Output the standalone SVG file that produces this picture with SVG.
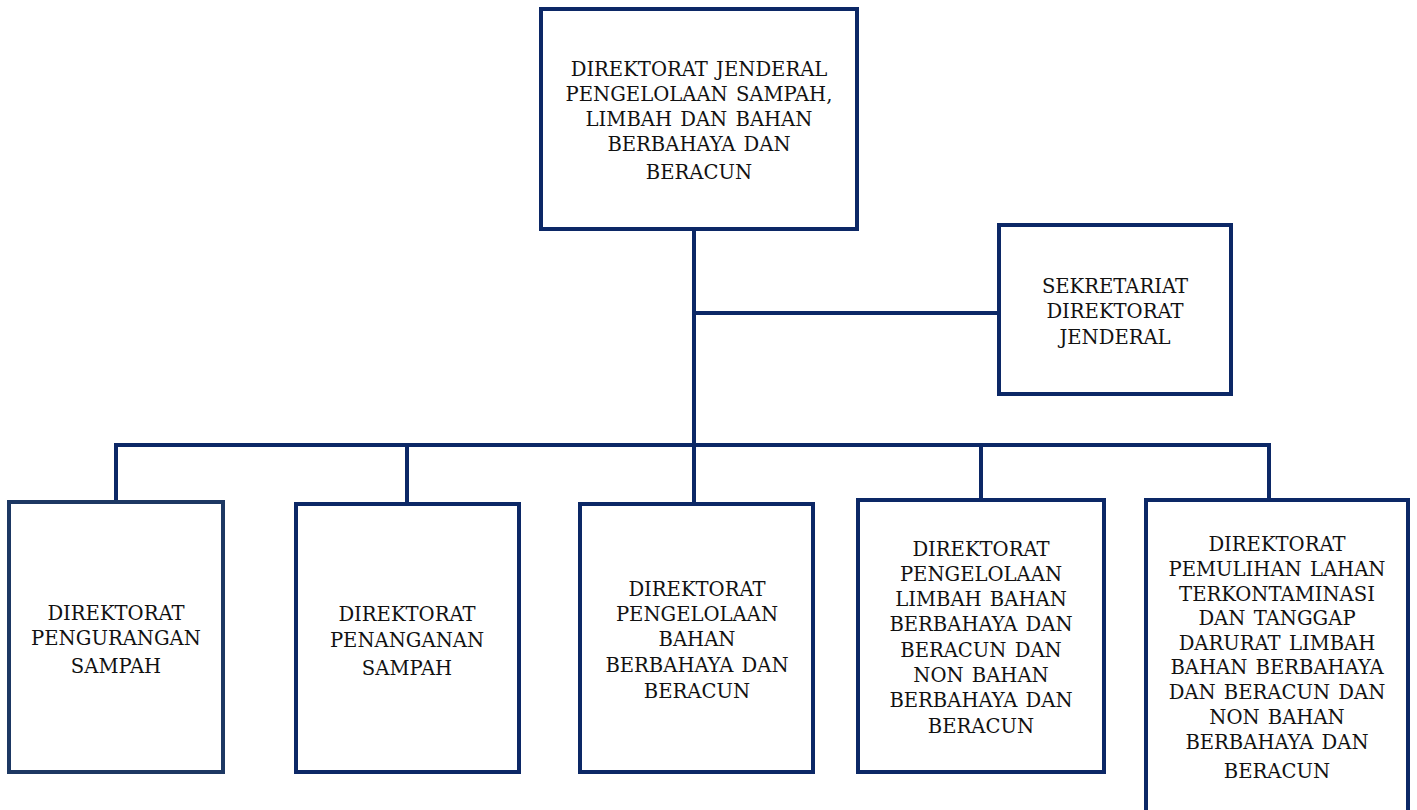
<svg xmlns="http://www.w3.org/2000/svg" width="1417" height="810" viewBox="0 0 1417 810">
<style>
.box{fill:#fff;stroke:#0c2866;stroke-width:4}
.ln{fill:none;stroke:#0c2866;stroke-width:4}
.t{font-family:"DejaVu Serif","Liberation Serif",serif;font-size:19.6px;fill:#111;text-anchor:middle;word-spacing:2px}
</style>
<rect width="1417" height="810" fill="#fff"/>
<g id="connectors">
<line class="ln" x1="694" y1="229" x2="694" y2="445"/>
<line class="ln" x1="694" y1="313" x2="999" y2="313"/>
<line class="ln" x1="114" y1="445" x2="1271" y2="445"/>
<line class="ln" x1="116" y1="445" x2="116" y2="502"/>
<line class="ln" x1="407" y1="445" x2="407" y2="504"/>
<line class="ln" x1="694" y1="445" x2="694" y2="504"/>
<line class="ln" x1="981" y1="445" x2="981" y2="500"/>
<line class="ln" x1="1269" y1="445" x2="1269" y2="500"/>
</g>
<g id="dirjen">
<rect class="box" x="541" y="9" width="316" height="220"/>
<text class="t"><tspan x="699" y="76">DIREKTORAT JENDERAL</tspan><tspan x="699" y="101">PENGELOLAAN SAMPAH,</tspan><tspan x="699" y="126">LIMBAH DAN BAHAN</tspan><tspan x="699" y="151">BERBAHAYA DAN</tspan><tspan x="699" y="179">BERACUN</tspan></text>
</g>
<g id="sekretariat">
<rect class="box" x="999" y="225" width="232" height="169"/>
<text class="t"><tspan x="1115" y="293">SEKRETARIAT</tspan><tspan x="1115" y="318">DIREKTORAT</tspan><tspan x="1115" y="344">JENDERAL</tspan></text>
</g>
<g id="pengurangan">
<rect class="box" x="9" y="502" width="214" height="270" style="stroke:#1d3863"/>
<text class="t"><tspan x="116" y="620">DIREKTORAT</tspan><tspan x="116" y="645">PENGURANGAN</tspan><tspan x="116" y="673">SAMPAH</tspan></text>
</g>
<g id="penanganan">
<rect class="box" x="296" y="504" width="223" height="268"/>
<text class="t"><tspan x="407" y="621">DIREKTORAT</tspan><tspan x="407" y="647">PENANGANAN</tspan><tspan x="407" y="675">SAMPAH</tspan></text>
</g>
<g id="b3">
<rect class="box" x="580" y="504" width="233" height="268"/>
<text class="t"><tspan x="697" y="596">DIREKTORAT</tspan><tspan x="697" y="621">PENGELOLAAN</tspan><tspan x="697" y="646">BAHAN</tspan><tspan x="697" y="672">BERBAHAYA DAN</tspan><tspan x="697" y="698">BERACUN</tspan></text>
</g>
<g id="limbah">
<rect class="box" x="858" y="500" width="246" height="272"/>
<text class="t"><tspan x="981" y="556">DIREKTORAT</tspan><tspan x="981" y="581">PENGELOLAAN</tspan><tspan x="981" y="606">LIMBAH BAHAN</tspan><tspan x="981" y="631">BERBAHAYA DAN</tspan><tspan x="981" y="657">BERACUN DAN</tspan><tspan x="981" y="682">NON BAHAN</tspan><tspan x="981" y="707">BERBAHAYA DAN</tspan><tspan x="981" y="733">BERACUN</tspan></text>
</g>
<g id="pemulihan">
<rect class="box" x="1146" y="500" width="262" height="314"/>
<text class="t"><tspan x="1277" y="551">DIREKTORAT</tspan><tspan x="1277" y="576">PEMULIHAN LAHAN</tspan><tspan x="1277" y="601">TERKONTAMINASI</tspan><tspan x="1277" y="625">DAN TANGGAP</tspan><tspan x="1277" y="650">DARURAT LIMBAH</tspan><tspan x="1277" y="674">BAHAN BERBAHAYA</tspan><tspan x="1277" y="699">DAN BERACUN DAN</tspan><tspan x="1277" y="724">NON BAHAN</tspan><tspan x="1277" y="749">BERBAHAYA DAN</tspan><tspan x="1277" y="778">BERACUN</tspan></text>
</g>
</svg>
